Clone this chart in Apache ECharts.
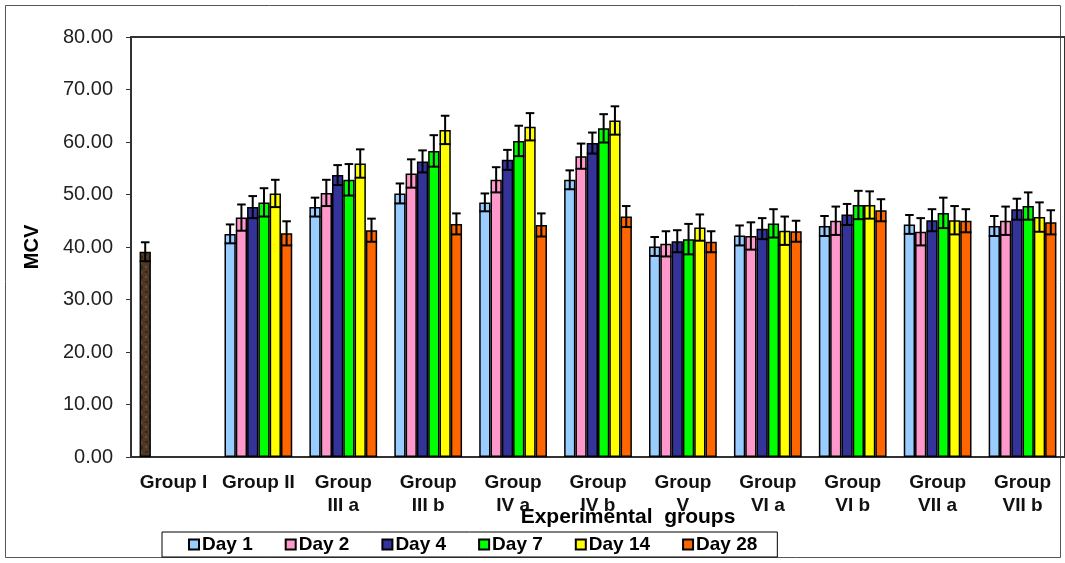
<!DOCTYPE html>
<html>
<head>
<meta charset="utf-8">
<script src="https://cdn.jsdelivr.net/npm/echarts@6/dist/echarts.min.js"></script>
<style>
  html, body { margin: 0; padding: 0; background: #fff; }
  #main { width: 1065px; height: 563px; }
</style>
</head>
<body>
<div id="main"></div>
<script>
// groups along the x axis
var categories = ['Group I', 'Group II', 'Group\nIII a', 'Group\nIII b', 'Group\nIV a', 'Group\nIV b',
	'Group\nV', 'Group\nVI a', 'Group\nVI b', 'Group\nVII a', 'Group\nVII b'];
var dayNames = ['Day 1', 'Day 2', 'Day 4', 'Day 7', 'Day 14', 'Day 28'];
var yTicks = [0, 10, 20, 30, 40, 50, 60, 70, 80];

// MCV means (Group I = control, only one bar)
var day1 = [39.1, 42.5, 47.6, 50.2, 48.5, 52.8, 40.1, 42.2, 44.0, 44.3, 44.0];
var day2 = [null, 45.6, 50.3, 54.0, 52.8, 57.3, 40.6, 42.1, 45.0, 42.9, 45.0];
var day4 = [null, 47.6, 53.7, 56.3, 56.6, 59.8, 41.1, 43.5, 46.2, 45.1, 47.2];
var day7 = [null, 48.5, 52.8, 58.3, 60.2, 62.6, 41.5, 44.5, 48.0, 46.5, 47.8];
var day14 = [null, 50.2, 55.9, 62.3, 62.9, 64.1, 43.7, 43.1, 48.0, 45.1, 45.7];
var day28 = [null, 42.6, 43.2, 44.4, 44.2, 45.8, 41.0, 43.0, 47.0, 45.0, 44.7];

// error bar half-lengths
var day1Err = [1.8, 1.8, 1.8, 1.9, 1.7, 1.8, 1.8, 1.9, 1.9, 1.8, 1.9];
var day2Err = [null, 2.5, 2.5, 2.7, 2.4, 2.4, 2.4, 2.6, 2.7, 2.6, 2.7];
var day4Err = [null, 2.1, 1.9, 2.1, 1.9, 2.0, 2.1, 2.0, 2.0, 2.1, 2.0];
var day7Err = [null, 2.7, 3.0, 3.0, 2.9, 2.7, 2.9, 2.7, 2.7, 2.9, 2.6];
var day14Err = [null, 2.6, 2.7, 2.7, 2.6, 2.7, 2.5, 2.7, 2.6, 2.7, 2.8];
var day28Err = [null, 2.3, 2.2, 2.0, 2.2, 2.0, 2.0, 2.0, 2.1, 2.2, 2.3];

var dayColors = ['#99CCFF', '#FF99CC', '#333399', '#00FF00', '#FFFF00', '#FF6600'];

var means = [day1, day2, day4, day7, day14, day28];
var errs = [day1Err, day2Err, day4Err, day7Err, day14Err, day28Err];

var BAR_PCT = 0.133; // bar width as share of category width
var FONT = 'Liberation Sans, Arial, sans-serif';

// brown grainy fill for the control bar
function brownPattern() {
	var c = document.createElement('canvas');
	c.width = 8; c.height = 10;
	var ctx = c.getContext('2d');
	ctx.fillStyle = '#4e3826';
	ctx.fillRect(0, 0, 8, 10);
	ctx.fillStyle = '#3b2918';
	ctx.fillRect(1, 1, 3, 2);
	ctx.fillRect(5, 6, 2, 3);
	ctx.fillStyle = '#6b5038';
	ctx.fillRect(5, 1, 1, 3);
	ctx.fillRect(1, 6, 2, 2);
	return { image: c, repeat: 'repeat' };
}

var myChart = echarts.init(document.getElementById('main'));

var series = [];
for (var k = 0; k < 6; k++) {
	var barData = means[k].map(function (v, i) {
		if (v === null) return '-';
		if (k === 0 && i === 0) {
			return { value: v, itemStyle: { color: brownPattern() } };
		}
		return v;
	});
	series.push({
		name: dayNames[k],
		type: 'bar',
		barWidth: (BAR_PCT * 100) + '%',
		barGap: '0%',
		itemStyle: { color: dayColors[k], borderColor: '#000', borderWidth: 1.5 },
		data: barData,
		z: 2
	});
}

// error bars drawn on top of the bars
for (var k2 = 0; k2 < 6; k2++) {
	(function (k) {
		var d = [];
		means[k].forEach(function (v, i) {
			if (v !== null) d.push([i, v, errs[k][i]]);
		});
		series.push({
			name: 'err' + k,
			type: 'custom',
			z: 5,
			silent: true,
			encode: { x: 0, y: 1 },
			data: d,
			renderItem: function (params, api) {
				var c = api.value(0), v = api.value(1), e = api.value(2);
				var bw = api.size([1, 0])[0];
				var off = (k - 2.5) * bw * BAR_PCT;
				var hi = api.coord([c, v + e]);
				var lo = api.coord([c, v - e]);
				var x = hi[0] + off;
				var hw = bw * BAR_PCT * 0.38;
				var st = { stroke: '#000', lineWidth: 2 };
				return {
					type: 'group',
					children: [
						{ type: 'line', shape: { x1: x, y1: hi[1], x2: x, y2: lo[1] }, style: st },
						{ type: 'line', shape: { x1: x - hw, y1: hi[1], x2: x + hw, y2: hi[1] }, style: st },
						{ type: 'line', shape: { x1: x - hw * 1.3, y1: lo[1], x2: x + hw * 1.3, y2: lo[1] }, style: st }
					]
				};
			}
		});
	})(k2);
}

var option = {
	animation: false,
	backgroundColor: '#fff',
	grid: {
		left: 131, top: 37, right: -3, bottom: 106,
		show: true, borderColor: '#333', borderWidth: 2
	},
	legend: {
		data: dayNames,
		left: 162, top: 532,
		padding: [3, 20, 3, 26],
		itemGap: 32,
		itemWidth: 10, itemHeight: 10,
		icon: 'rect',
		borderColor: '#000', borderWidth: 1,
		textStyle: { fontFamily: FONT, fontWeight: 'bold', fontSize: 19, color: '#000', padding: [0, 0, 0, -2] }
	},
	xAxis: {
		type: 'category',
		data: categories,
		axisLine: { lineStyle: { color: '#333', width: 1.5 } },
		axisTick: { length: 6, lineStyle: { color: '#333' } },
		axisLabel: {
			interval: 0, margin: 14, color: '#111',
			fontFamily: FONT, fontWeight: 'bold', fontSize: 19, lineHeight: 23
		}
	},
	yAxis: {
		type: 'value',
		min: yTicks[0], max: yTicks[yTicks.length - 1], interval: 10,
		axisLine: { show: true, lineStyle: { color: '#333', width: 1.5 } },
		axisTick: { show: true, length: 5, lineStyle: { color: '#333' } },
		splitLine: { show: false },
		axisLabel: {
			margin: 18, color: '#222', fontFamily: FONT, fontSize: 20,
			formatter: function (v) { return v.toFixed(2); }
		}
	},
	graphic: [
		{ type: 'rect', shape: { x: 5.5, y: 5.5, width: 1055, height: 552 },
			style: { fill: null, stroke: '#555', lineWidth: 1 }, z: -1 },
		{ type: 'text', x: 32, y: 247, rotation: Math.PI / 2,
			style: { text: 'MCV', fontFamily: FONT, fontWeight: 'bold', fontSize: 20, fill: '#000',
				align: 'center', verticalAlign: 'middle' } },
		{ type: 'text', x: 628, y: 517,
			style: { text: 'Experimental  groups', fontFamily: FONT, fontWeight: 'bold', fontSize: 21, fill: '#000',
				align: 'center', verticalAlign: 'middle' } }
	],
	series: series
};

myChart.setOption(option);
</script>
</body>
</html>
